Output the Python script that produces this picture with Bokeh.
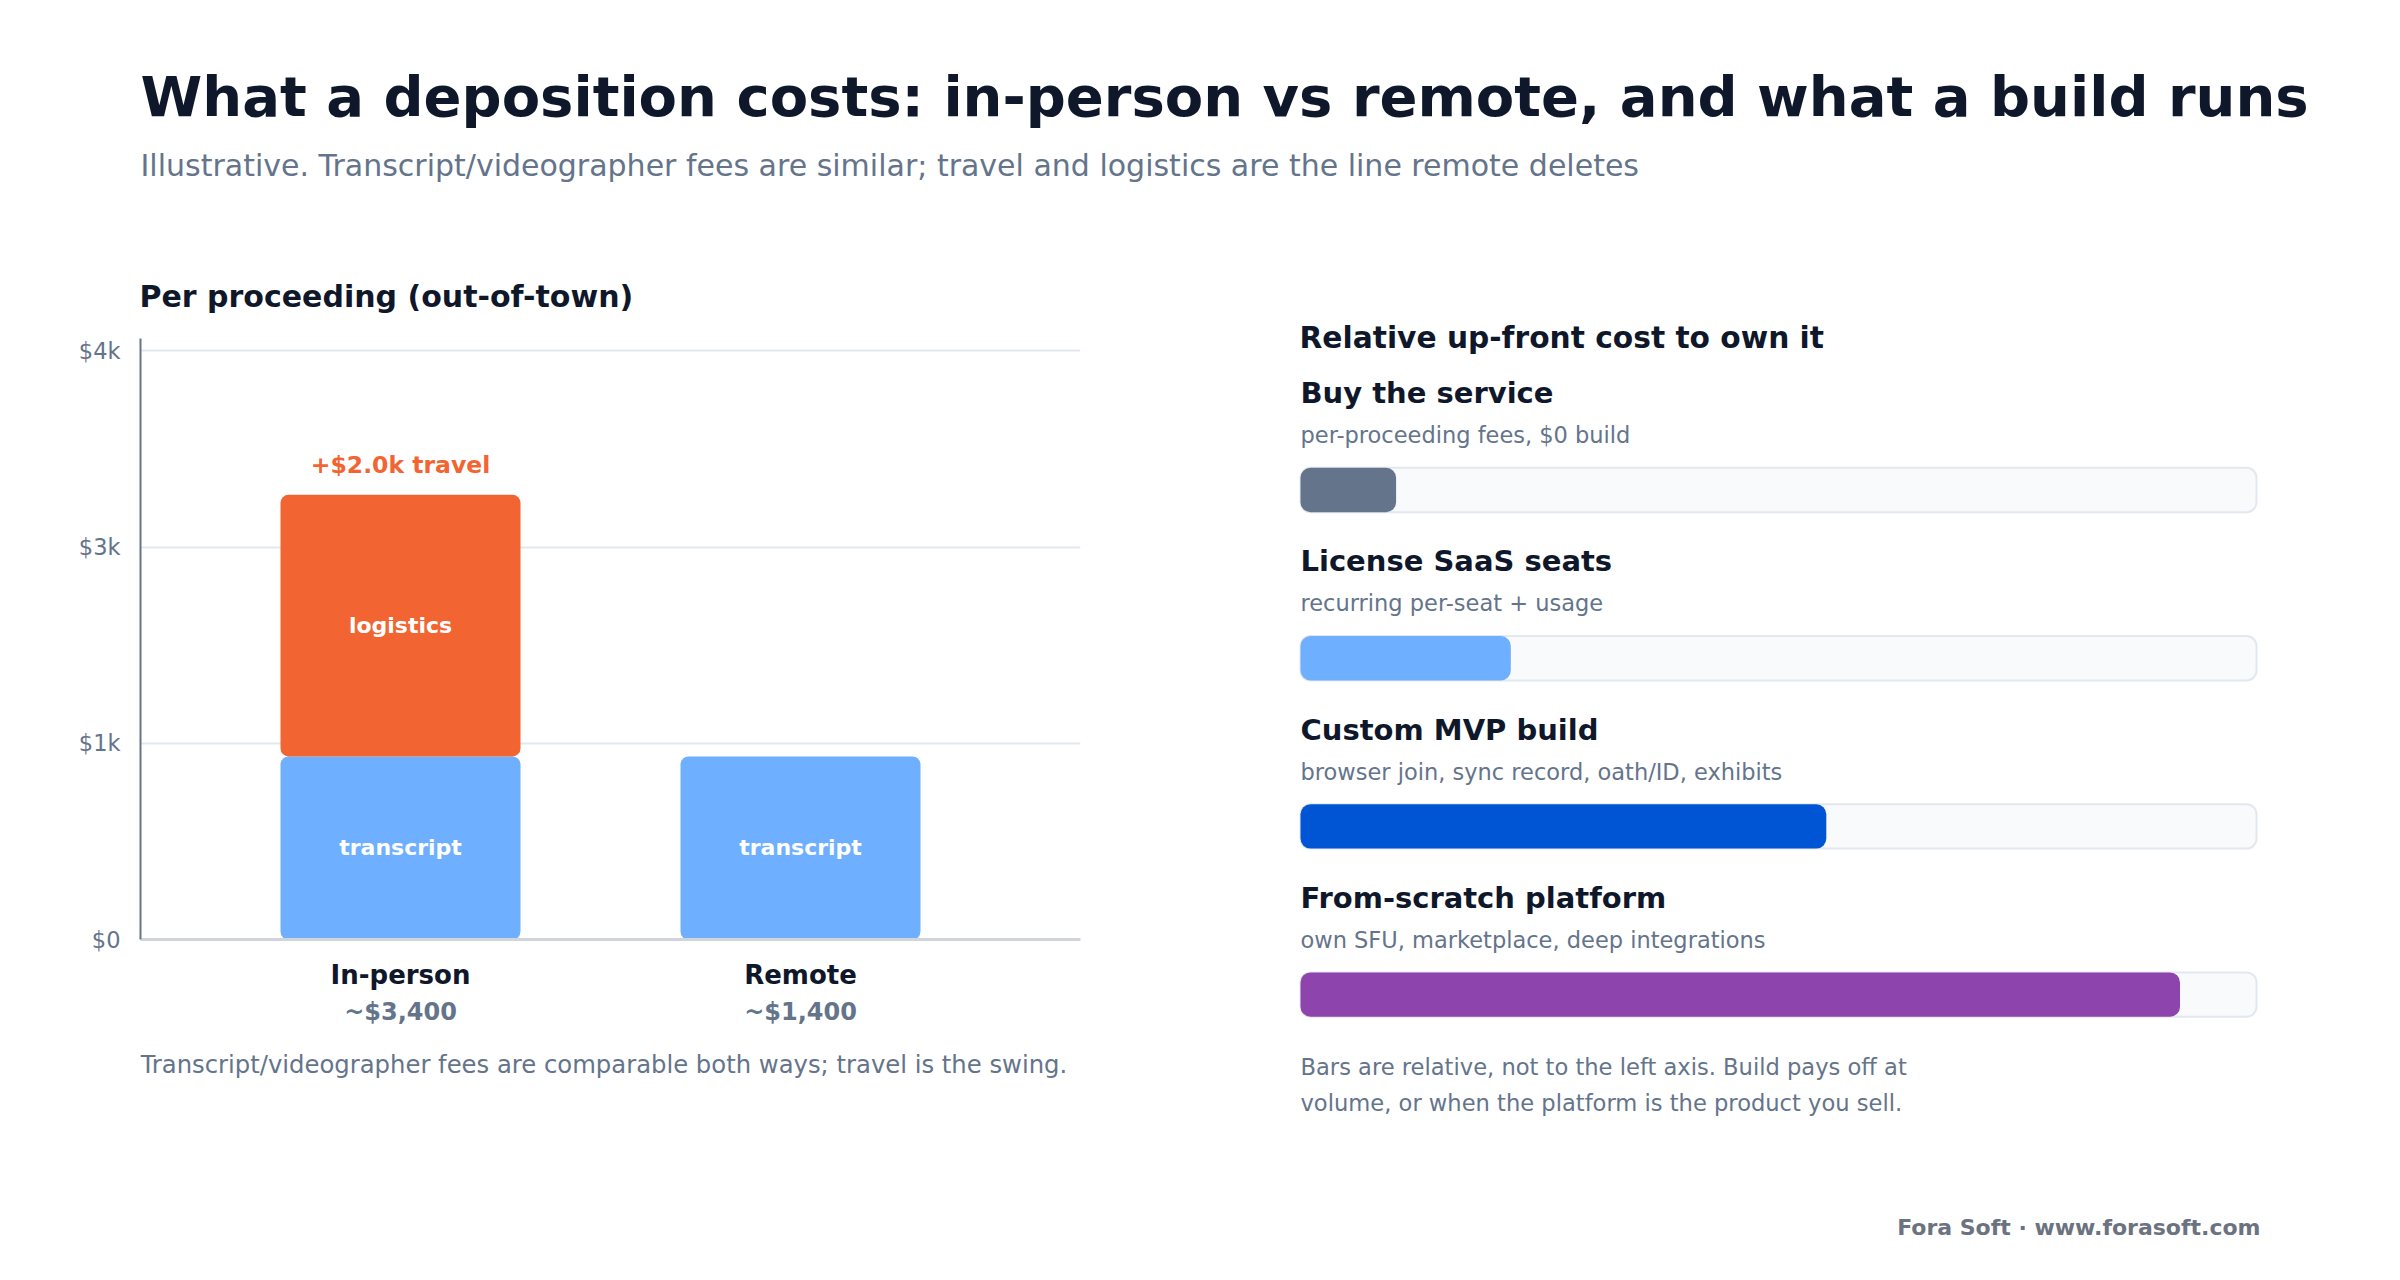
from bokeh.plotting import figure
from bokeh.models import Range1d, FixedTicker, ColumnDataSource
from bokeh.layouts import column, row
from bokeh.embed import file_html
from bokeh.resources import INLINE
from bokeh.core.properties import value

FONT = "DejaVu Sans"
DARK = "#0f172a"
SLATE = "#64748b"
MID = 0.365  # baseline -> visual middle, in em

# ---------------- data ----------------
title_text = "What a deposition costs: in-person vs remote, and what a build runs"
subtitle_text = ("Illustrative. Transcript/videographer fees are similar; travel and logistics "
                 "are the line remote deletes")
left_heading = "Per proceeding (out-of-town)"

categories = ["In-person", "Remote"]
category_totals = ["~$3,400", "~$1,400"]
transcript = [1400, 1400]
travel = [2000, 0]
travel_note = "+$2.0k travel"
y_ticks = [0, 1500, 3000, 4500]
y_tick_labels = ["$0", "$1k", "$3k", "$4k"]
left_note = "Transcript/videographer fees are comparable both ways; travel is the swing."

right_heading = "Relative up-front cost to own it"
options = ["Buy the service", "License SaaS seats", "Custom MVP build", "From-scratch platform"]
option_notes = ["per-proceeding fees, $0 build", "recurring per-seat + usage",
                "browser join, sync record, oath/ID, exhibits", "own SFU, marketplace, deep integrations"]
relative_cost = [0.10, 0.22, 0.55, 0.92]
option_colors = ["#64748b", "#6EB0FF", "#0055D4", "#8E44AD"]
right_note = ["Bars are relative, not to the left axis. Build pays off at",
              "volume, or when the platform is the product you sell."]
brand = "Fora Soft \u00b7 www.forasoft.com"

BLUE_LIGHT = "#6EB0FF"
ORANGE = "#F26532"


def mid(baseline, size):
    return baseline - MID * size


def blank(w, h, xr, yr, **kw):
    opts = dict(min_border=0)
    opts.update(kw)
    p = figure(width=w, height=h, x_range=xr, y_range=yr, output_backend="svg",
               toolbar_location=None, x_axis_type=None, y_axis_type=None, **opts)
    p.outline_line_color = None
    p.background_fill_color = "white"
    p.border_fill_color = "white"
    return p


def txt(p, x, y, s, size, color, bold=False, align="left"):
    p.text(x=[x], y=[y], text=[s], text_font=value(FONT), text_font_size=f"{size}px",
           text_font_style="bold" if bold else "normal", text_color=color,
           text_align=align, text_baseline="middle")


# ---------------- header (page y 0..320) ----------------
HEAD_H = 320
head = blank(2400, HEAD_H, Range1d(0, 2400), Range1d(HEAD_H, 0))
txt(head, 140, mid(116.7, 56), title_text, 56, DARK, bold=True)
txt(head, 140, mid(176, 30), subtitle_text, 30, SLATE)
txt(head, 139, mid(306.7, 30), left_heading, 30, DARK, bold=True)

# ---------------- left chart (page y 320..960) ----------------
LW = 1240
LP_BOTTOM = 960
FX0, FX1 = 140, 1080          # frame px (page coords)
FY0, FY1 = 338, 939
XR = (-0.65, 1.70)
YMAX = 4595
units_per_px = YMAX / (FY1 - FY0)


def lx(px):
    return XR[0] + (px - FX0) / (FX1 - FX0) * (XR[1] - XR[0])


lp = figure(width=LW, height=LP_BOTTOM - HEAD_H, x_range=Range1d(*XR), y_range=Range1d(0, YMAX),
            output_backend="svg", toolbar_location=None,
            min_border_left=FX0, min_border_right=LW - FX1,
            min_border_top=FY0 - HEAD_H, min_border_bottom=LP_BOTTOM - FY1)
lp.outline_line_color = None
lp.background_fill_color = "white"
lp.border_fill_color = "white"

lp.yaxis.ticker = FixedTicker(ticks=y_ticks)
lp.yaxis.major_label_overrides = {t: l for t, l in zip(y_ticks, y_tick_labels)}
lp.yaxis.axis_line_color = SLATE
lp.yaxis.axis_line_width = 2
lp.yaxis.major_tick_line_color = None
lp.yaxis.minor_tick_line_color = None
lp.yaxis.major_tick_out = 0
lp.yaxis.minor_tick_out = 0
lp.yaxis.major_label_standoff = 20
lp.yaxis.major_label_text_font = FONT
lp.yaxis.major_label_text_font_size = "22.5px"
lp.yaxis.major_label_text_color = SLATE

lp.xaxis.ticker = FixedTicker(ticks=[])
lp.xaxis.axis_line_color = "#d1d5db"
lp.xaxis.axis_line_width = 3
lp.xaxis.major_tick_line_color = None
lp.xaxis.minor_tick_line_color = None
lp.xaxis.major_tick_out = 0
lp.xaxis.minor_tick_out = 0
lp.xaxis.major_label_standoff = 0
lp.xaxis.major_label_text_font_size = "1px"

lp.xgrid.visible = False
lp.ygrid.ticker = FixedTicker(ticks=y_ticks[1:])
lp.ygrid.grid_line_color = "#e2e8f0"
lp.ygrid.grid_line_width = 2

xs = list(range(len(categories)))
src = ColumnDataSource(dict(
    x=xs, transcript=transcript, mid=[t / 2 for t in transcript],
    lab=["transcript"] * len(xs)))
lp.vbar(x="x", bottom=0, top="transcript", width=0.6, source=src,
        fill_color=BLUE_LIGHT, line_color=None, border_radius=8)
lp.text(x="x", y="mid", text="lab", source=src, text_font=value(FONT),
        text_font_size="22px", text_font_style="bold", text_color="white",
        text_align="center", text_baseline="middle")

tx = [x for x, v in zip(xs, travel) if v > 0]
tb = [t for t, v in zip(transcript, travel) if v > 0]
tv = [v for v in travel if v > 0]
tsrc = ColumnDataSource(dict(
    x=tx, bottom=tb, top=[b + v for b, v in zip(tb, tv)],
    mid=[b + v / 2 for b, v in zip(tb, tv)],
    above=[b + v + 30 * units_per_px for b, v in zip(tb, tv)],
    lab=["logistics"] * len(tx), note=[travel_note] * len(tx)))
lp.vbar(x="x", bottom="bottom", top="top", width=0.6, source=tsrc,
        fill_color=ORANGE, line_color=None, border_radius=8)
lp.text(x="x", y="mid", text="lab", source=tsrc, text_font=value(FONT),
        text_font_size="22px", text_font_style="bold", text_color="white",
        text_align="center", text_baseline="middle")
lp.text(x="x", y="above", text="note", source=tsrc, text_font=value(FONT),
        text_font_size="23.5px", text_font_style="bold", text_color=ORANGE,
        text_align="center", text_baseline="middle")

# ---------------- left footer (page y 960..1280) ----------------
lfoot = blank(LW, 1280 - LP_BOTTOM, Range1d(*XR), Range1d(1280, LP_BOTTOM),
              min_border_left=FX0, min_border_right=LW - FX1, min_border_top=0, min_border_bottom=0)
fsrc = ColumnDataSource(dict(x=xs, cat=categories, tot=category_totals,
                             cy=[mid(984, 26)] * len(xs), ty=[mid(1020, 24)] * len(xs)))
lfoot.text(x="x", y="cy", text="cat", source=fsrc, text_font=value(FONT),
           text_font_size="26px", text_font_style="bold", text_color=DARK,
           text_align="center", text_baseline="middle")
lfoot.text(x="x", y="ty", text="tot", source=fsrc, text_font=value(FONT),
           text_font_size="24px", text_font_style="bold", text_color=SLATE,
           text_align="center", text_baseline="middle")
txt(lfoot, lx(140), mid(1072.5, 24.3), left_note, 24.3, SLATE)

# ---------------- right panel (page x 1240..2400, y 320..1280) ----------------
TRACK_X0, TRACK_W = 1300, 956
ROW0, ROW_STEP = 489.5, 168.2


def rx(px):
    return (px - TRACK_X0) / TRACK_W


def ry(py):
    return (py - ROW0) / ROW_STEP


rp = blank(2400 - LW, 1280 - HEAD_H, Range1d(rx(LW), rx(2400)), Range1d(ry(1280), ry(HEAD_H)))
idx = list(range(len(options)))
bar_h = 44.4 / ROW_STEP
rsrc = ColumnDataSource(dict(
    y=idx, val=relative_cost, color=option_colors, name=options, note=option_notes,
    name_y=[i + (mid(0, 29) - 86.2) / ROW_STEP for i in idx],
    note_y=[i + (mid(0, 22.5) - 46.5) / ROW_STEP for i in idx],
    full=[1.0] * len(idx), zero=[0.0] * len(idx)))
rp.hbar(y="y", left="zero", right="full", height=bar_h, source=rsrc,
        fill_color="#f8fafc", line_color="#e2e8f0", line_width=2, border_radius=10)
rp.hbar(y="y", left="zero", right="val", height=bar_h, source=rsrc,
        fill_color="color", line_color=None, border_radius=10)
rp.text(x="zero", y="name_y", text="name", source=rsrc, text_font=value(FONT),
        text_font_size="29px", text_font_style="bold", text_color=DARK,
        text_align="left", text_baseline="middle")
rp.text(x="zero", y="note_y", text="note", source=rsrc, text_font=value(FONT),
        text_font_size="22.5px", text_color=SLATE,
        text_align="left", text_baseline="middle")

txt(rp, rx(1299), ry(mid(348, 29.7)), right_heading, 29.7, DARK, bold=True)
txt(rp, rx(1300), ry(mid(1075, 22.6)), right_note[0], 22.6, SLATE)
txt(rp, rx(1300), ry(mid(1110.7, 22.6)), right_note[1], 22.6, SLATE)
txt(rp, rx(2260), ry(mid(1235, 22)), brand, 22, "#6b7280", bold=True, align="right")

layout = column(head, row(column(lp, lfoot, spacing=0), rp, spacing=0), spacing=0)
open("out.html", "w").write(file_html(layout, INLINE))
